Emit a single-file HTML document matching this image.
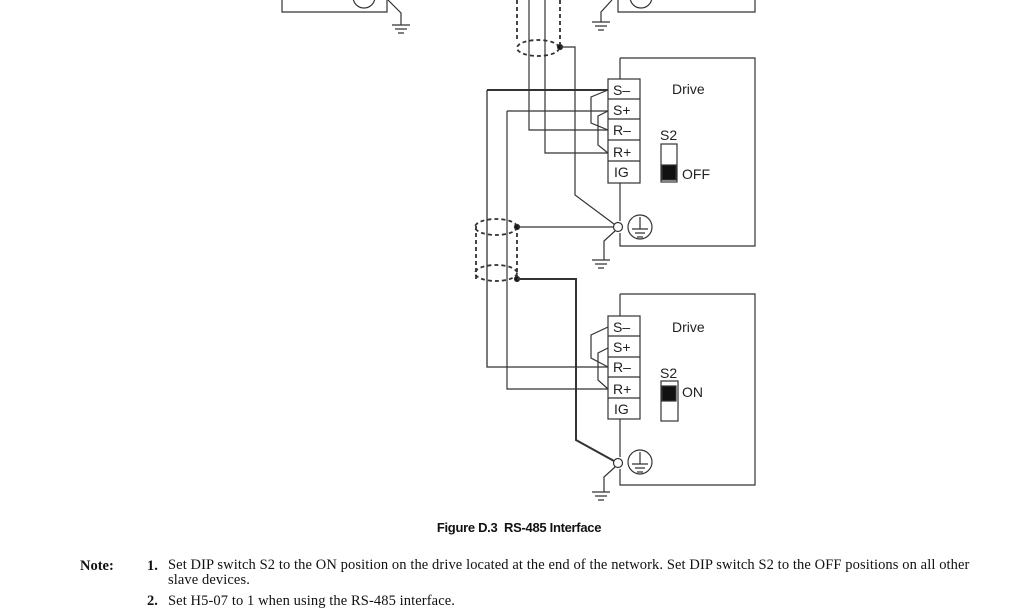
<!DOCTYPE html>
<html><head><style>
body{margin:0;background:#fff;width:1024px;height:600px;overflow:hidden;position:relative}
svg{position:absolute;left:0;top:0}
.t{font-family:"Liberation Sans",Arial,sans-serif;font-size:14px;fill:#222;stroke:none}
.n{position:absolute;font-family:"Liberation Serif",serif;font-size:14.5px;color:#111;white-space:nowrap}
</style></head><body>
<svg width="1024" height="600" viewBox="0 0 1024 600" fill="none" stroke="#333" stroke-width="1.2">
<path d="M282 0V12H387V0"/>
<circle cx="364" cy="-3" r="11"/>
<path d="M388 0L401 13V25"/>
<path d="M392 25H410M395 29H407M398 33H404"/>
<path d="M618 0V12H755V0"/>
<circle cx="641" cy="-3" r="11"/>
<path d="M612 0L601 12V22"/>
<path d="M592 22H610M595 26H607M598 30H604"/>
<path d="M517 0V42M560 0V44" stroke-dasharray="4,3" stroke-width="1.8"/>
<ellipse cx="538" cy="48" rx="21" ry="8" stroke-dasharray="4,3" stroke-width="1.8"/>
<circle cx="560" cy="47" r="2.5" fill="#111"/>
<path d="M560 47H575V195L618 227"/>
<path d="M529 0V130H608M545 0V153H608"/>
<path d="M620 58H755V246H620V233M620 221V183M620 79V58"/>
<rect x="608" y="79" width="32" height="104"/>
<path d="M608 99H640M608 119H640M608 140H640M608 161H640"/>
<text class="t" x="613" y="95">S–</text><text class="t" x="613" y="115">S+</text>
<text class="t" x="613" y="135">R–</text><text class="t" x="613" y="157">R+</text>
<text class="t" x="614" y="177">IG</text>
<path d="M608 90L591 97V123L608 130M608 111L598 116V145L608 153"/>
<path d="M487 90H608" stroke-width="2"/>
<path d="M487 90V367H608" stroke-width="1.3"/>
<path d="M507 111H608M507 111V389H608"/>
<text class="t" x="672" y="94">Drive</text>
<text class="t" x="660" y="140">S2</text>
<rect x="661" y="144" width="16" height="38"/><rect x="662" y="165" width="14" height="15" fill="#111"/>
<text class="t" x="682" y="179">OFF</text>
<circle cx="618" cy="227" r="4.5" fill="#fff"/>
<circle cx="640" cy="227" r="12"/>
<path d="M640 217V229M632 229H648M635 233H645M637 237H643"/>
<path d="M615 231L604 241V260"/>
<path d="M592 260H610M595 264H607M598 268H604"/>
<path d="M476 226V282M517 226V280" stroke-dasharray="4,3" stroke-width="1.8"/>
<ellipse cx="496" cy="227" rx="21" ry="8" stroke-dasharray="4,3" stroke-width="1.8"/>
<ellipse cx="496" cy="273" rx="21" ry="8" stroke-dasharray="4,3" stroke-width="1.8"/>
<circle cx="517" cy="227" r="2.5" fill="#111"/>
<circle cx="517" cy="279" r="2.5" fill="#111"/>
<path d="M517 227H613"/>
<path d="M517 279H576V440L614 461" stroke-width="2"/>
<path d="M620 294H755V485H620V469M620 457V419M620 316V294"/>
<rect x="608" y="316" width="32" height="103"/>
<path d="M608 336H640M608 357H640M608 377H640M608 398H640"/>
<text class="t" x="613" y="332">S–</text><text class="t" x="613" y="352">S+</text>
<text class="t" x="613" y="372">R–</text><text class="t" x="613" y="394">R+</text>
<text class="t" x="614" y="414">IG</text>
<path d="M608 327L591 335V358L608 367M608 348L598 353V380L608 389"/>
<text class="t" x="672" y="332">Drive</text>
<text class="t" x="660" y="378">S2</text>
<rect x="661" y="381" width="17" height="40"/><rect x="662" y="386" width="14" height="15" fill="#111"/>
<text class="t" x="682" y="397">ON</text>
<circle cx="618" cy="463" r="4.5" fill="#fff"/>
<circle cx="640" cy="462" r="12"/>
<path d="M640 452V464M632 464H648M635 468H645M637 472H643"/>
<path d="M615 467L604 477V492"/>
<path d="M592 492H610M595 496H607M598 500H604"/>
</svg>
<div style="position:absolute;left:0;width:1024px;top:520px;text-align:center;font-family:'Liberation Sans',Arial,sans-serif;font-weight:bold;font-size:13px;color:#111;padding-left:14px;box-sizing:border-box;letter-spacing:-0.3px">Figure D.3&nbsp; RS-485 Interface</div>
<div class="n" style="left:80px;top:558px;font-weight:bold">Note:</div>
<div class="n" style="left:147px;top:558px;font-weight:bold">1.</div>
<div class="n" style="left:168px;top:558px;line-height:15px;letter-spacing:0.1px">Set DIP switch S2 to the ON position on the drive located at the end of the network. Set DIP switch S2 to the OFF positions on all other<br>slave devices.</div>
<div class="n" style="left:147px;top:593px;font-weight:bold">2.</div>
<div class="n" style="left:168px;top:593px;letter-spacing:0.1px">Set H5-07 to 1 when using the RS-485 interface.</div>
</body></html>
